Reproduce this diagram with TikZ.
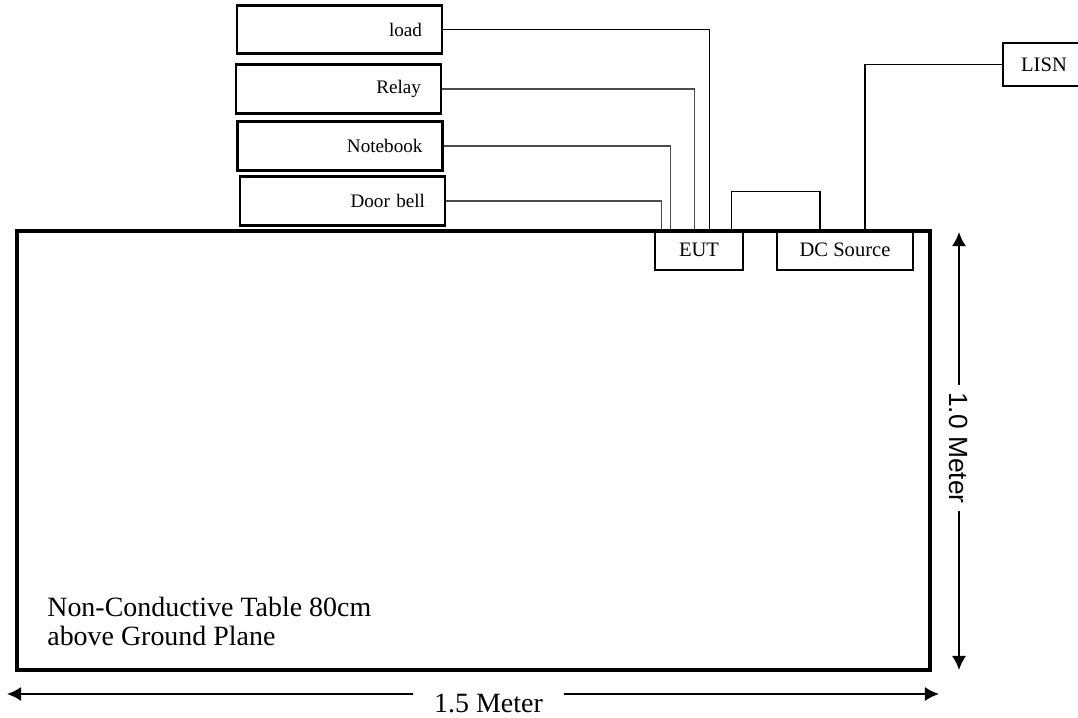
\documentclass[tikz,border=0pt]{standalone}
\usepackage{fontspec}
\setmainfont{Liberation Serif}
\newfontfamily\arialfont{Liberation Sans}
\usepackage{tikz}
\usetikzlibrary{arrows.meta,calc}

\begin{document}
\begin{tikzpicture}[
    x=0.02cm, y=-0.02cm,
    unitbox/.style={draw, line width=1.4pt, minimum width=4.1cm, minimum height=0.98cm,
                    text width=3.3cm, align=right, inner xsep=0.4cm, inner ysep=0pt,
                    font=\fontsize{10.9}{13}\selectfont},
    devbox/.style={draw, line width=0.7pt, minimum height=0.8cm, inner sep=0pt,
                   font=\fontsize{11.7}{14}\selectfont},
    feed/.style={draw=black!70, line width=0.6pt},
    wire/.style={draw=black, line width=1.0pt},
    tableline/.style={draw=black, line width=2.3pt},
    dim/.style={-{Latex[length=8pt,width=8pt]}, line width=1.1pt},
]
  \useasboundingbox (0,0) rectangle (1078,717);
  % peripherals on the left
  \node[unitbox, minimum height=0.96cm] (load) at (339.5,29.5) {load};
  \node[unitbox] (relay)    at (338.5,89) {Relay};
  \node[unitbox] (notebook) at (340,146)  {Notebook};
  \node[unitbox] (doorbell) at (342.5,201) {Door bell};
  % devices on the table edge
  \node[devbox, minimum width=1.76cm] (eut)   at (699,250) {EUT};
  \node[devbox, minimum width=2.72cm, line width=0.9pt] (dcsrc) at (845,250) {DC Source};
  \node[devbox, minimum width=1.64cm, minimum height=0.86cm, line width=0.9pt] (lisn) at (1044,64.5) {LISN};
  % table
  \draw[tableline] (17,231) rectangle (930,670);
  \node[anchor=base west, align=left, inner sep=0pt, font=\fontsize{15.9}{16}\selectfont]
    (tabnote) at (47,645) {Non-Conductive Table 80cm\\above Ground Plane};
  % cables to the EUT
  \draw[draw=black, line width=0.6pt] (load.east) -| ($(eut.north west)+(55,0)$);
  \draw[feed] (relay.east)    -| ($(eut.north west)+(40,0)$);
  \draw[feed] (notebook.east) -| ($(eut.north west)+(16,0)$);
  \draw[feed] (doorbell.east) -| ($(eut.north west)+(7,0)$);
  % EUT -- DC source -- LISN
  \draw[wire] ($(eut.north east)+(-12,0)$) -- ++(0,-38) -| ($(dcsrc.north west)+(44,0)$);
  \draw[wire] ($(dcsrc.north west)+(89,0)$) |- (lisn.west);
  % dimensions
  \coordinate (wl) at (7,694);
  \coordinate (wr) at (939,694);
  \node[anchor=base, inner xsep=12pt, inner ysep=0pt, font=\fontsize{15.9}{16}\selectfont]
    (wlabel) at (488.5,712) {1.5 Meter};
  \draw[dim] (wlabel.west |- wl) -- (wl);
  \draw[dim] (wlabel.east |- wr) -- (wr);
  \coordinate (ht) at (959,232);
  \coordinate (hb) at (959,670);
  \node[rotate=-90, inner xsep=4pt, font=\arialfont\fontsize{15}{16}\selectfont]
    (hlabel) at (959,448) {1.0 Meter};
  \draw[dim] (hlabel.west) -- (ht);
  \draw[dim] (hlabel.east) -- (hb);
\end{tikzpicture}
\end{document}
